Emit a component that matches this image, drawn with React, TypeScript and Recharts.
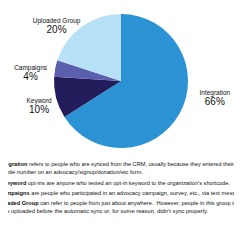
import React from "react";
import { PieChart, Pie, Cell } from "recharts";

const names = ["Integration", "Keyword", "Campaigns", "Uploaded Group"];
const shares = [66, 10, 4, 20];
const colors = ["#2b93d4", "#221c5a", "#5b5fae", "#b7e1f7"];

// where each label sits around the pie (degrees, distance from centre)
const labelAngle = [-9, 195.5, 173.5, 138.5];
const labelRadius = [95, 85, 91, 86];

const noteBold = ["Integration", "", "Keyword", "Campaigns", "Uploaded Group", ""];
const noteText = [
  " refers to people who are synced from the CRM, usually because they entered their",
  "mobile number on an advocacy/signup/donation/etc form.",
  " opt-ins are anyone who texted an opt-in keyword to the organization\u2019s shortcode.",
  " are people who participated in an advocacy campaign, survey, etc., via text messages.",
  " can refer to people from just about anywhere.  However, people in this group too",
  "were uploaded before the automatic sync or, for some reason, didn\u2019t sync properly.",
];
// line layout: left start, fitted length, baseline
const noteX = [-1.5, -1.5, 2.5, -1, -5.5, -3];
const noteLen = [235.5, 144.5, 227.5, 250, 245.5, 211];
const noteY = [166, 174, 185, 195, 205, 213];

const data = names.map((name, i) => ({ name, value: shares[i] }));

const RADIAN = Math.PI / 180;

const renderLabel = (props: any) => {
  const { cx, cy, index } = props;
  const a = labelAngle[index] * RADIAN;
  const x = cx + labelRadius[index] * Math.cos(a);
  const y = cy - labelRadius[index] * Math.sin(a);
  return (
    <g>
      <text x={x} y={y - 1} textAnchor="middle" fontSize={6.5} fill="#111" fontFamily="Liberation Sans">
        {names[index]}
      </text>
      <text x={x} y={y + 9} textAnchor="middle" fontSize={10} fill="#111" fontFamily="Liberation Sans">
        {shares[index]}%
      </text>
    </g>
  );
};

export default function App() {
  return (
    <div
      style={{
        position: "relative",
        margin: -8,
        width: 242,
        height: 242,
        overflow: "hidden",
        background: "#fff",
      }}
    >
      <PieChart width={242} height={160} margin={{ top: 0, right: 0, bottom: 0, left: 0 }}>
        <Pie
          data={data}
          dataKey="value"
          cx={121}
          cy={81}
          outerRadius={67}
          startAngle={90}
          endAngle={-270}
          stroke="none"
          label={renderLabel}
          labelLine={false}
          isAnimationActive={false}
        >
          {data.map((d, i) => (
            <Cell key={d.name} fill={colors[i]} />
          ))}
        </Pie>
      </PieChart>
      <svg
        width={242}
        height={242}
        style={{ position: "absolute", left: 0, top: 0, pointerEvents: "none" }}
      >
        {noteText.map((t, i) => (
          <text
            key={i}
            x={noteX[i]}
            y={noteY[i]}
            textLength={noteLen[i]}
            lengthAdjust="spacingAndGlyphs"
            fontSize={5.7}
            fill="#111"
            fontFamily="Liberation Sans"
            style={{ whiteSpace: "pre" }}
          >
            {noteBold[i] && <tspan fontWeight="bold">{noteBold[i]}</tspan>}
            {t}
          </text>
        ))}
      </svg>
    </div>
  );
}
